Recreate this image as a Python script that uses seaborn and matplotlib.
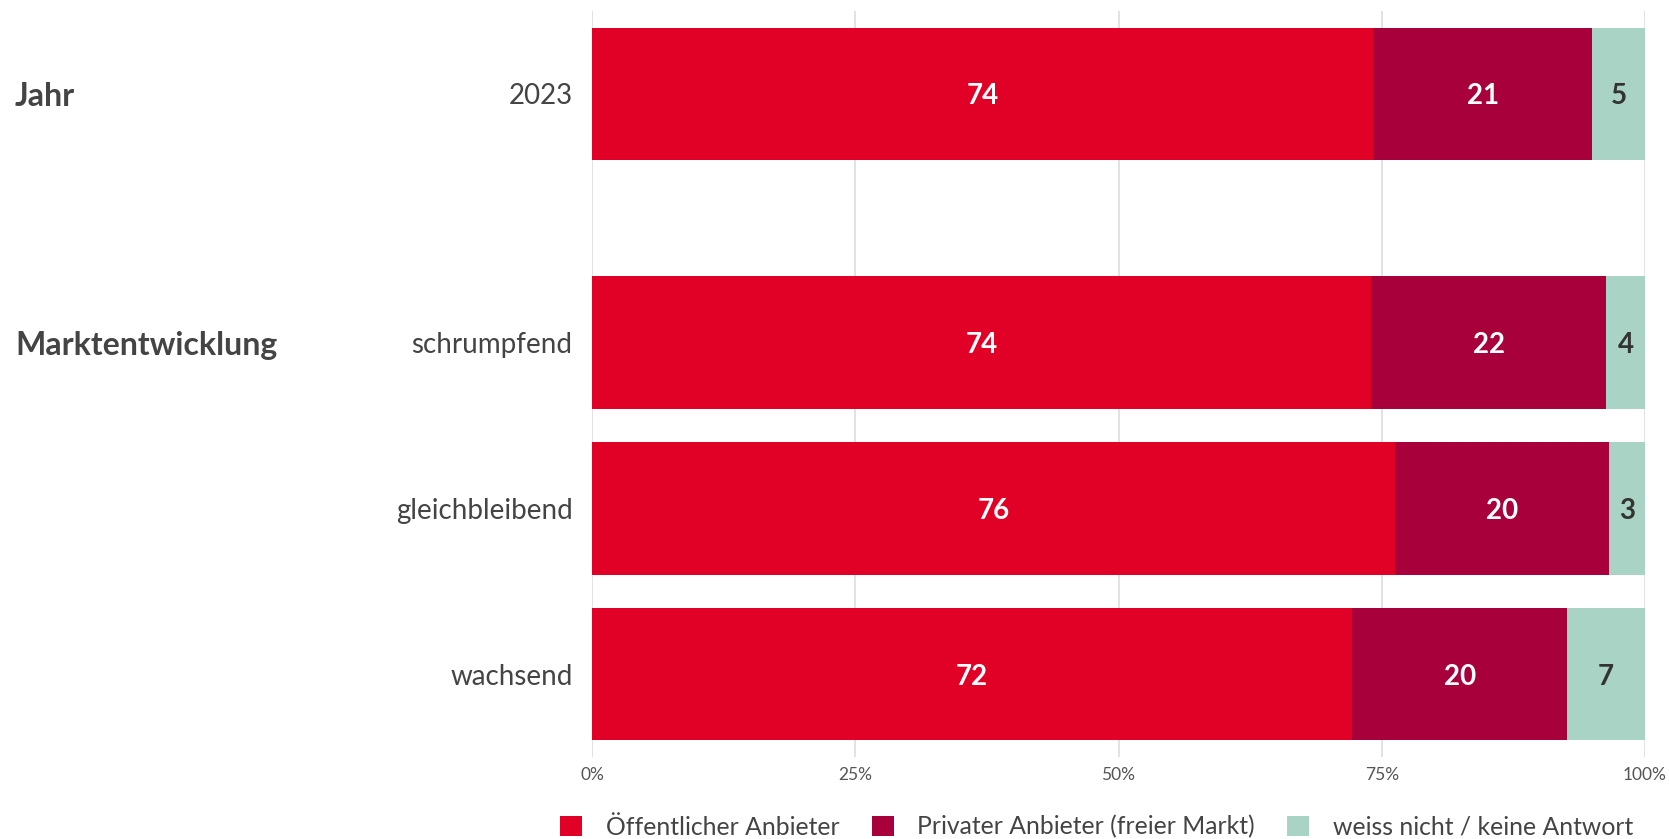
import numpy as np
import pandas as pd
import matplotlib
matplotlib.use("Agg")
import matplotlib.pyplot as plt
import matplotlib.transforms as mtransforms
from matplotlib.patches import Patch
import seaborn as sns

# ---- data ----
categories = ["2023", "schrumpfend", "gleichbleibend", "wachsend"]
groups = ["Jahr", "Marktentwicklung"]
group_of = ["Jahr", "Marktentwicklung", "Marktentwicklung", "Marktentwicklung"]
series_names = ["Öffentlicher Anbieter", "Privater Anbieter (freier Markt)", "weiss nicht / keine Antwort"]
oeffentlich = [74.2, 74.0, 76.3, 72.2]
privat = [20.8, 22.3, 20.3, 20.4]
weiss_nicht = [5.0, 3.7, 3.4, 7.4]
x_ticks = [0, 25, 50, 75, 100]
x_tick_labels = ["0%", "25%", "50%", "75%", "100%"]

colors = ["#E10026", "#A8003A", "#A9D3C5"]
label_colors = ["white", "white", "#333333"]
text_color = "#444444"

sns.set_theme(style="white")
plt.rcParams["font.family"] = ["Lato", "DejaVu Sans"]

fig = plt.figure(figsize=(16.69, 8.39), dpi=100)
ax = fig.add_axes([592 / 1669, 1 - 757 / 839, (1645 - 592) / 1669, (757 - 11) / 839])

# y positions: groups separated by an extra half slot
pos = []
p = 0.0
prev = None
for g in group_of:
    if prev is not None:
        p += 1.0 if g == prev else 1.5
    pos.append(p)
    prev = g

series = [oeffentlich, privat, weiss_nicht]
cum = np.cumsum(np.array(series), axis=0)
df = pd.DataFrame({"pos": pos})
# draw from the largest cumulative down so each segment shows
for i in reversed(range(3)):
    df["val"] = cum[i]
    sns.barplot(data=df, x="val", y="pos", orient="h", native_scale=True,
                color=colors[i], width=0.8, ax=ax, saturation=1, zorder=3,
                edgecolor="none", linewidth=0)

# value labels
for i in range(3):
    starts = cum[i] - np.array(series[i])
    for j, v in enumerate(series[i]):
        ax.text(starts[j] + v / 2, pos[j] + 0.015, f"{round(v):d}", ha="center", va="center",
                color=label_colors[i], fontsize=20, fontweight="bold", zorder=5)

ax.set_xlim(0, 100)
ax.set_ylim(pos[-1] + 0.5, -0.5)
ax.set_xticks(x_ticks)
ax.set_xticklabels(x_tick_labels)
ax.set_yticks(pos)
ax.set_yticklabels(categories)
ax.set_xlabel("")
ax.set_ylabel("")
ax.tick_params(axis="y", length=0, pad=14, labelsize=20, labelcolor=text_color)
ax.tick_params(axis="x", length=0, pad=7, labelsize=12.5, labelcolor="#555555")
ax.grid(axis="x", color="#DDDDDD", linewidth=1.2, zorder=0)
ax.grid(axis="y", visible=False)
for s in ax.spines.values():
    s.set_visible(False)

# group labels
trans = mtransforms.blended_transform_factory(fig.transFigure, ax.transData)
for g in groups:
    j = group_of.index(g)
    ax.text(15 / 1669, pos[j] + 0.015, g, transform=trans, ha="left", va="center",
            fontsize=23, fontweight="bold", color=text_color)

handles = [Patch(facecolor=c, edgecolor="none") for c in colors]
fig.legend(handles, series_names, loc="center right", bbox_to_anchor=(1643 / 1669, 1 - 827 / 839),
           ncol=3, frameon=False, fontsize=17.8, handlelength=0.9, handleheight=0.9,
           handletextpad=0.95, columnspacing=1.3, labelcolor=text_color, borderaxespad=0)

fig.savefig("out.png", dpi=100)
